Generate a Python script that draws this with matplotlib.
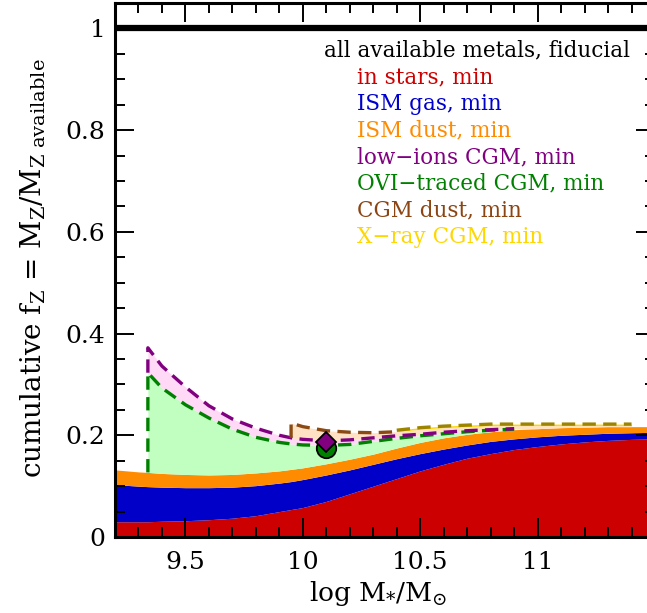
import numpy as np
import matplotlib
matplotlib.use("Agg")
import matplotlib.pyplot as plt
from matplotlib.ticker import MultipleLocator

plt.rcParams['font.family'] = 'DejaVu Serif'
plt.rcParams['mathtext.fontset'] = 'dejavuserif'

nan = np.nan

# log stellar mass grid
mass = np.array([9.2, 9.3, 9.34, 9.4, 9.5, 9.6, 9.7, 9.8, 9.9, 9.95, 10.0,
                 10.1, 10.2, 10.3, 10.4, 10.5, 10.6, 10.7, 10.8, 10.9, 11.0,
                 11.1, 11.2, 11.3, 11.4, 11.5])

# cumulative fractions (each one includes the ones below)
stars = [0.030, 0.030, 0.030, 0.031, 0.032, 0.034, 0.037, 0.042, 0.050, 0.054, 0.058,
         0.070, 0.085, 0.100, 0.115, 0.130, 0.143, 0.155, 0.164, 0.172, 0.178,
         0.183, 0.187, 0.190, 0.192, 0.193]
ism_gas = [0.103, 0.100, 0.099, 0.098, 0.097, 0.097, 0.098, 0.101, 0.106, 0.109, 0.113,
           0.122, 0.132, 0.143, 0.154, 0.164, 0.173, 0.181, 0.188, 0.193, 0.197,
           0.200, 0.202, 0.204, 0.205, 0.206]
ism_dust = [0.132, 0.128, 0.127, 0.125, 0.123, 0.122, 0.123, 0.126, 0.130, 0.133, 0.136,
            0.144, 0.153, 0.163, 0.175, 0.186, 0.195, 0.202, 0.207, 0.211, 0.213,
            0.215, 0.216, 0.217, 0.217, 0.217]
ovi_cgm = [nan, nan, 0.323, 0.293, 0.260, 0.234, 0.212, 0.196, 0.186, 0.183, 0.181,
           0.180, 0.182, 0.188, 0.194, 0.199, 0.203, 0.207, 0.210, 0.212, nan,
           nan, nan, nan, nan, nan]
lowion_cgm = [nan, nan, 0.372, 0.336, 0.295, 0.258, 0.232, 0.214, 0.200, 0.195, 0.192,
              0.189, 0.191, 0.195, 0.199, 0.202, 0.206, 0.209, 0.211, 0.213, nan,
              nan, nan, nan, nan, nan]
cgm_dust = [nan, nan, nan, nan, nan, nan, nan, nan, nan, 0.224, 0.217,
            0.209, 0.206, 0.205, 0.207, 0.212, 0.215, 0.217, 0.219, 0.219, 0.219,
            0.219, 0.219, 0.219, 0.219, nan]
xray_cgm = [nan, nan, nan, nan, nan, nan, nan, nan, nan, nan, nan,
            nan, nan, nan, 0.210, 0.215, 0.218, 0.220, 0.222, 0.222, 0.222,
            0.222, 0.222, 0.222, 0.222, nan]

# single galaxy points
pt_mass = 10.1
pt_ovi = 0.175
pt_lowion = 0.187

stars = np.array(stars)
ism_gas = np.array(ism_gas)
ism_dust = np.array(ism_dust)
ovi_cgm = np.array(ovi_cgm)
lowion_cgm = np.array(lowion_cgm)
cgm_dust = np.array(cgm_dust)
xray_cgm = np.array(xray_cgm)

fig = plt.figure(figsize=(6.47, 6.13), dpi=100)
ax = fig.add_axes([115/647, 1-537/613, 540/647, 534/613])

ax.fill_between(mass, 0, stars, color='#cc0000', lw=0)
ax.fill_between(mass, stars, ism_gas, color='#0000c8', lw=0)
ax.fill_between(mass, ism_gas, ism_dust, color='#ff8c00', lw=0)
ax.fill_between(mass, ism_dust, ovi_cgm, color='#c0ffc0', lw=0)
ax.fill_between(mass, ovi_cgm, lowion_cgm, color='#ffd9f6', lw=0)
low_top = np.where(np.isnan(lowion_cgm), ism_dust, lowion_cgm)
ax.fill_between(mass, low_top, cgm_dust, color='#ffe1c4', lw=0)
ax.fill_between(mass, cgm_dust, xray_cgm, color='#ffd700', lw=0)

dash = dict(lw=2.4, dashes=(4, 2.2))
i0 = 2
ax.plot(np.r_[mass[i0], mass[i0:]], np.r_[ism_dust[i0], ovi_cgm[i0:]],
        color='#008000', **dash)
ax.plot(np.r_[mass[i0], mass[i0:]], np.r_[ovi_cgm[i0], lowion_cgm[i0:]],
        color='#800080', **dash)
i1 = 9
sel = mass <= 10.4
ax.plot(np.r_[mass[i1], mass[i1:][sel[i1:]]],
        np.r_[lowion_cgm[i1], cgm_dust[i1:][sel[i1:]]],
        color='#8b4a13', **dash)
ax.plot(mass, xray_cgm, color='#9c8400', **dash)

ax.plot(pt_mass, pt_ovi, 'o', ms=14, mfc='#008000', mec='k', mew=1.3, zorder=5)
ax.plot(pt_mass, pt_lowion, 'D', ms=10, mfc='#800080', mec='k', mew=1.3, zorder=6)

ax.axhline(1.0, color='k', lw=4.5)

ax.set_xlim(9.2, 11.5)
ax.set_ylim(0, 1.05)
ax.set_xticks([9.5, 10, 10.5, 11])
ax.set_xticklabels(['9.5', '10', '10.5', '11'])
ax.set_yticks([0, 0.2, 0.4, 0.6, 0.8, 1.0])
ax.set_yticklabels(['0', '0.2', '0.4', '0.6', '0.8', '1'])
ax.xaxis.set_minor_locator(MultipleLocator(0.1))
ax.yaxis.set_minor_locator(MultipleLocator(0.05))
ax.tick_params(which='both', direction='in', top=True, right=True, width=1.4)
ax.tick_params(which='major', length=14, labelsize=18)
ax.tick_params(which='minor', length=7)
ax.tick_params(axis='x', pad=10)
ax.tick_params(axis='y', pad=7)
for s in ax.spines.values():
    s.set_linewidth(2.2)
    s.set_zorder(10)

fig.text(33/647, 1-268/613,
         r'cumulative f$_{\rm Z}$ = M$_{\rm Z}$/M$_{\rm Z\ available}$',
         rotation=90, ha='center', va='center', fontsize=20)
fig.text(378/647, 1-593/613, r'log M$_{*}$/M$_{\odot}$',
         ha='center', va='center', fontsize=19)

fig.text(630/647, 1-50/613, 'all available metals, fiducial',
         ha='right', va='center', fontsize=15.5, color='k')
labels = ['in stars, min', 'ISM gas, min', 'ISM dust, min', 'low\u2212ions CGM, min',
          'OVI\u2212traced CGM, min', 'CGM dust, min', 'X\u2212ray CGM, min']
colors = ['#cc0000', '#0000cc', '#ff8c00', '#800080', '#008000', '#8b4513', '#ffd700']
for k, (lab, c) in enumerate(zip(labels, colors)):
    fig.text(357/647, 1-(77 + 26.7*k)/613, lab, ha='left', va='center',
             fontsize=15.5, color=c)

fig.savefig('out.png', dpi=100)
